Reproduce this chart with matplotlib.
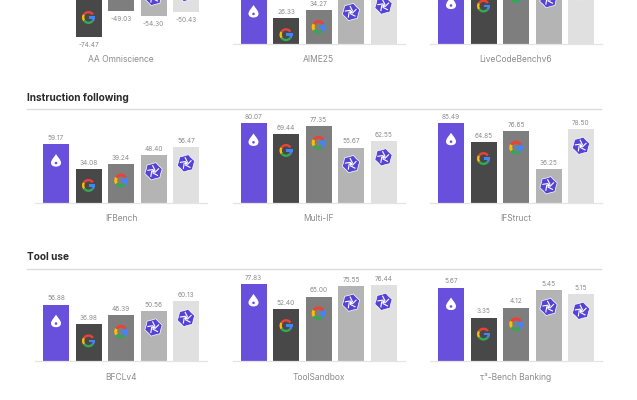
import matplotlib
matplotlib.use('Agg')
import numpy as np
import matplotlib.pyplot as plt
from matplotlib.patches import Circle, PathPatch, Wedge, Rectangle
from matplotlib.path import Path
from matplotlib.transforms import Affine2D

plt.rcParams['font.family'] = ['Inter', 'DejaVu Sans']

# values per panel, clipped bars at the top of the crop are estimates
aa_omniscience = [-30.00, -74.47, -49.03, -54.30, -50.43]
aime25 = [50.00, 26.33, 34.27, 49.50, 56.00]
livecodebench = [58.00, 55.00, 65.00, 62.00, 69.00]
ifbench = [59.17, 34.08, 39.24, 48.40, 56.47]
multi_if = [80.07, 69.44, 77.35, 55.67, 62.55]
ifstruct = [85.49, 64.85, 76.65, 36.25, 78.50]
bfclv4 = [56.88, 36.98, 46.39, 50.56, 60.13]
toolsandbox = [77.83, 52.40, 65.00, 75.55, 76.44]
tau_bench = [5.67, 3.35, 4.12, 5.45, 5.15]

panel_values = [aa_omniscience, aime25, livecodebench,
                ifbench, multi_if, ifstruct,
                bfclv4, toolsandbox, tau_bench]
panel_names = ['AA Omniscience', 'AIME25', 'LiveCodeBenchv6',
               'IFBench', 'Multi-IF', 'IFStruct',
               'BFCLv4', 'ToolSandbox', 'τ³-Bench Banking']
section_names = ['Instruction following', 'Tool use']

W, H = 637, 400
bar_colors = ['#684fdc', '#484848', '#7e7e7e', '#b4b4b4', '#e0e0e0']
icon_kinds = ['drop', 'g', 'g2', 'star', 'star']
purple = '#5443d6'
label_grey = '#8c8c8c'

# pixels per data unit for each panel
px_per_unit = [1.02, 0.98, 0.99, 0.99, 0.99, 0.935, 0.99, 0.99, 12.95]
column_left = [35, 232.5, 430]
row_base = [44, 202.7, 361]
row_label = [60, 218.5, 377]
panel_w = 172
panel_h = 100
bar_step = 32.5
icon_drop = 16.5


def fx(px):
    return px / W


def fy(py):
    return 1 - py / H


def draw_drop(fig, x, y):
    base = Affine2D().translate(x, y)
    verts = [(0, 6.5), (1.6, 3.8), (5, 0.8), (5, -2.2), (5, -4.8), (2.8, -6),
             (0, -6), (-2.8, -6), (-5, -4.8), (-5, -2.2), (-5, 0.8), (-1.6, 3.8), (0, 6.5)]
    codes = [Path.MOVETO] + [Path.CURVE4] * 12
    fig.add_artist(PathPatch(Path(verts, codes), fc='white', ec='none', transform=base))
    fig.add_artist(Circle((0, -2.4), 1.3, fc=bar_colors[0], ec='none', transform=base))


def draw_g(fig, x, y, r=6.5, ring=2.4, fat=False):
    base = Affine2D().translate(x, y)
    parts = [(35, 150, '#ea4335'), (150, 215, '#fbbc05'), (215, 320, '#34a853'), (320, 365, '#4285f4')]
    if fat:
        parts = [(30, 150, '#ea4335'), (150, 215, '#fbbc05'), (215, 310, '#34a853'), (310, 390, '#4285f4')]
    for a, b, col in parts:
        fig.add_artist(Wedge((0, 0), r, a, b, width=ring, fc=col, ec='none', transform=base))
    fig.add_artist(Rectangle((0, -1.2), r, 2.4, fc='#4285f4', ec='none', transform=base))


def draw_star(fig, x, y):
    base = Affine2D().translate(x, y)
    angles = np.deg2rad(np.arange(0, 360, 30) + 15)
    radii = np.tile([9.0, 7.6], 6)
    pts = np.column_stack([radii * np.cos(angles), radii * np.sin(angles)])
    star = Path(np.vstack([pts, pts[0]]), closed=True)
    fig.add_artist(PathPatch(star, fc=purple, ec='white', lw=0.5, transform=base))
    # pinwheel cuts through the star
    for a in np.arange(0, 360, 72) + 20:
        a0, a1 = np.deg2rad(a), np.deg2rad(a + 80)
        seg = Path([(1.8 * np.cos(a0), 1.8 * np.sin(a0)), (6.2 * np.cos(a1), 6.2 * np.sin(a1))])
        fig.add_artist(PathPatch(seg, fc='none', ec='white', lw=0.8, transform=base, capstyle='butt'))
    fig.add_artist(Circle((0, 0), 1.4, fc='white', ec='none', transform=base))


fig = plt.figure(figsize=(W / 100, H / 100), dpi=100)

for n, values in enumerate(panel_values):
    row, col = divmod(n, 3)
    negative = values[0] < 0
    base_py = row_base[row]
    scale = px_per_unit[n]
    if negative:
        # baseline sits above the crop, bars hang down from it
        base_py = 37 - 74.47 * scale
        ax = fig.add_axes([fx(column_left[col]), fy(base_py + panel_h), panel_w / W, panel_h / H])
        ax.set_ylim(-panel_h / scale, 0)
    else:
        ax = fig.add_axes([fx(column_left[col]), fy(base_py), panel_w / W, panel_h / H])
        ax.set_ylim(0, panel_h / scale)
    margin = panel_w / bar_step / 2 - 2
    ax.set_xlim(-margin, 4 + margin)
    ax.axis('off')
    xs = np.arange(5)
    ax.bar(xs, values, width=0.8, color=bar_colors, clip_on=False)
    ax.axhline(0, color='#e4e4e4', lw=0.9, clip_on=False, zorder=3)

    for i, v in enumerate(values):
        px, py = ax.transData.transform((i, v))
        # labels of bars cut by the crop are not in the picture
        if H - py + (4.5 if v < 0 else -6) > 3:
            offset = -7.5 if v < 0 else 3.2
            va = 'center' if v < 0 else 'bottom'
            ax.annotate(f'{v:.2f}', (i, v), xytext=(0, offset * 0.72), textcoords='offset points',
                        ha='center', va=va, fontsize=4.7, color=label_grey)

    fig.text(fx(column_left[col] + panel_w / 2), fy(row_label[row]), panel_names[n],
             ha='center', va='center', fontsize=6.1, color=label_grey)

    # logos hang a fixed distance inside the far end of the bar
    for i, v in enumerate(values):
        px, py = ax.transData.transform((i, v))
        py = py + (icon_drop + 3 if v < 0 else -icon_drop)
        kind = icon_kinds[i]
        if kind == 'drop':
            draw_drop(fig, px, py)
        elif kind == 'g':
            draw_g(fig, px, py)
        elif kind == 'g2':
            draw_g(fig, px, py, r=6.8, ring=3.0, fat=True)
        else:
            draw_star(fig, px, py)

head_y = [98, 257]
line_y = [109, 268.5]
for name, hy, ly in zip(section_names, head_y, line_y):
    fig.text(fx(27), fy(hy), name, ha='left', va='center', fontsize=7.3,
             fontweight='bold', color='#2b2b2b')
    fig.add_artist(plt.Line2D([fx(27), fx(601)], [fy(ly), fy(ly)], color='#dcdcdc', lw=1.0))

fig.savefig('out.png', dpi=100)
